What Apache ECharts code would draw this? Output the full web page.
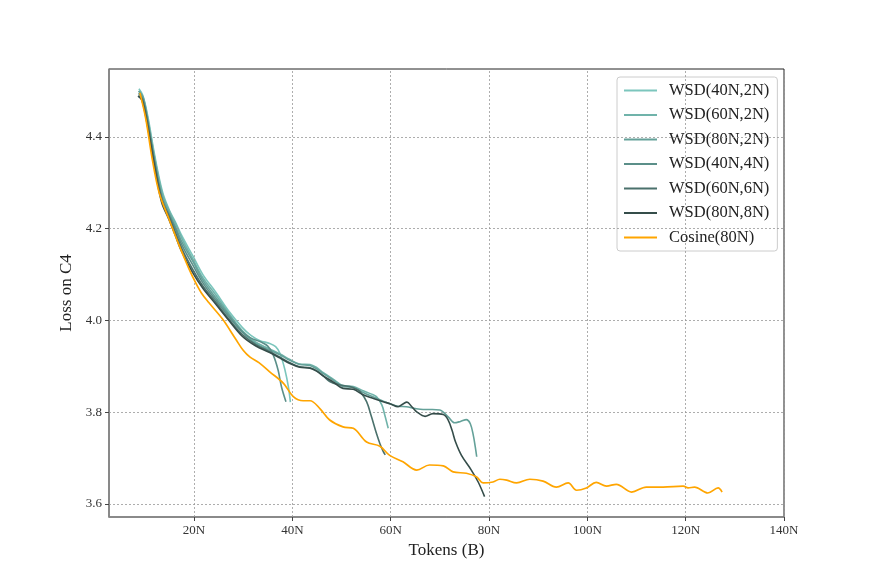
<!DOCTYPE html>
<html>
<head>
<meta charset="utf-8">
<script src="https://cdn.jsdelivr.net/npm/echarts@6/dist/echarts.min.js"></script>
<style>
  html, body { margin: 0; padding: 0; background: #fff; }
  #main { width: 872px; height: 581px; }
</style>
</head>
<body>
<div id="main"></div>
<script>
// tokens (in N units) vs loss on C4
var wsd40_2 = [[8.8,4.505],[9.6,4.49],[10.6,4.445],[12.0,4.36],[13.6,4.28],[15.0,4.24],[16.2,4.215],[17.6,4.183],[19.8,4.14],[21.8,4.10],[24.4,4.062],[27.1,4.02],[29.8,3.985],[31.5,3.968],[33.4,3.956],[35.4,3.950],[36.6,3.943],[37.5,3.928],[38.5,3.892],[39.2,3.855],[39.6,3.822]];
var wsd60_2 = [[8.9,4.50],[9.7,4.485],[10.6,4.44],[12.0,4.355],[13.6,4.275],[15.1,4.235],[16.3,4.21],[17.7,4.175],[19.8,4.133],[21.8,4.093],[24.4,4.056],[27.1,4.015],[29.8,3.978],[32.5,3.953],[35.4,3.938],[37.5,3.927],[39.5,3.915],[41.5,3.905],[43.6,3.904],[45,3.897],[46.3,3.886],[48.3,3.872],[50.3,3.858],[52.4,3.856],[54.4,3.847],[56,3.840],[57.1,3.834],[58.2,3.816],[58.8,3.794],[59.5,3.765]];
var wsd80_2 = [[8.7,4.50],[9.6,4.487],[10.5,4.44],[11.9,4.353],[13.5,4.27],[15.1,4.23],[16.3,4.203],[17.6,4.17],[19.8,4.128],[21.8,4.088],[24.4,4.05],[27.1,4.012],[29.8,3.976],[32.5,3.95],[35.4,3.935],[37.5,3.925],[39.5,3.913],[41.5,3.904],[43.6,3.902],[45,3.894],[46.3,3.884],[48.3,3.87],[50.3,3.856],[52.4,3.854],[54.4,3.843],[56.5,3.833],[58.5,3.824],[60,3.818],[61.5,3.813],[63.2,3.812],[65,3.808],[66.6,3.806],[68.5,3.806],[70,3.805],[71.7,3.79],[73,3.777],[74.2,3.780],[75.4,3.784],[76.2,3.775],[76.8,3.75],[77.2,3.725],[77.5,3.703]];
var wsd40_4 = [[8.7,4.495],[9.5,4.485],[10.5,4.438],[11.9,4.35],[13.5,4.265],[15.0,4.228],[16.3,4.198],[17.6,4.163],[19.8,4.12],[21.8,4.082],[24.4,4.045],[27.1,4.008],[29.8,3.975],[31.5,3.962],[33.4,3.954],[35.0,3.944],[36.1,3.925],[37.1,3.892],[37.8,3.855],[38.7,3.823]];
var wsd60_6 = [[8.7,4.49],[9.5,4.482],[10.5,4.435],[11.9,4.348],[13.5,4.262],[15.0,4.225],[16.3,4.19],[17.6,4.155],[19.8,4.11],[21.8,4.075],[24.4,4.04],[27.1,4.003],[29.8,3.97],[32.5,3.948],[35.4,3.932],[37.5,3.92],[39.5,3.908],[41.5,3.899],[43.6,3.897],[45,3.89],[46.3,3.879],[47.6,3.867],[49.5,3.86],[51.7,3.856],[52.7,3.852],[53.7,3.846],[55.1,3.823],[56.1,3.79],[57.1,3.754],[57.8,3.732],[58.5,3.714],[58.9,3.707]];
var wsd80_8 = [[8.6,4.489],[9.4,4.48],[10.4,4.432],[11.8,4.345],[13.4,4.258],[14.9,4.22],[16.2,4.185],[17.5,4.15],[19.7,4.105],[21.8,4.07],[24.4,4.036],[27.1,4.0],[29.8,3.966],[32.5,3.945],[35.4,3.93],[37.5,3.918],[39.5,3.906],[41.5,3.898],[43.6,3.896],[45,3.889],[46.3,3.879],[48.3,3.866],[50.3,3.852],[52.4,3.85],[54.4,3.838],[56.5,3.83],[58.5,3.823],[60,3.818],[61.5,3.812],[62.5,3.818],[63.3,3.822],[64.3,3.812],[65.3,3.801],[67,3.791],[68.6,3.797],[70.7,3.795],[71.7,3.783],[72.5,3.76],[73.2,3.735],[74.4,3.706],[76.4,3.674],[77.8,3.648],[79.1,3.616]];
var cosine80 = [[9.0,4.496],[10.2,4.439],[11.5,4.352],[12.9,4.279],[14.9,4.221],[17.0,4.163],[19.0,4.112],[20.3,4.083],[21.5,4.06],[23.0,4.039],[25.8,4.003],[28.5,3.959],[30.0,3.935],[31.4,3.920],[33.2,3.908],[35.4,3.888],[38.2,3.863],[40.2,3.834],[42.2,3.825],[43.6,3.825],[45.6,3.808],[47.6,3.783],[50.3,3.768],[52.4,3.765],[55.1,3.735],[57.8,3.726],[59.8,3.706],[62.5,3.692],[65.3,3.674],[67.9,3.685],[70.7,3.683],[72.7,3.670],[75.4,3.667],[77.5,3.659],[78.8,3.646],[80.8,3.648],[82.2,3.654],[83.6,3.652],[85.6,3.646],[88.3,3.654],[91.0,3.650],[93.7,3.637],[96.1,3.646],[97.8,3.630],[99.8,3.635],[101.8,3.647],[103.9,3.639],[105.9,3.643],[109.0,3.626],[112.0,3.637],[115.4,3.637],[119.5,3.639],[120.5,3.635],[121.8,3.637],[124.5,3.624],[126.6,3.635],[127.4,3.626]];

var seriesNames = ['WSD(40N,2N)','WSD(60N,2N)','WSD(80N,2N)','WSD(40N,4N)','WSD(60N,6N)','WSD(80N,8N)','Cosine(80N)'];
var seriesData = [wsd40_2, wsd60_2, wsd80_2, wsd40_4, wsd60_6, wsd80_8, cosine80];
var seriesColors = ['#7cc6bd','#70b3aa','#64a199','#5b8f89','#4b716c','#354d4a','#ffa500'];

var xTicks = [20, 40, 60, 80, 100, 120, 140];
var yTicks = [3.6, 3.8, 4.0, 4.2, 4.4];

var font = 'Liberation Serif';
var myChart = echarts.init(document.getElementById('main'));

var series = seriesData.map(function (d, i) {
    return {
        name: seriesNames[i],
        type: 'line',
        data: d,
        smooth: 0.35,
        showSymbol: false,
        symbol: 'none',
        z: 3 + i,
        lineStyle: { color: seriesColors[i], width: i == 6 ? 1.7 : 1.6 },
        itemStyle: { color: seriesColors[i] }
    };
});

// dotted grid drawn as mark lines
var gridLines = [];
xTicks.forEach(function (v) { gridLines.push({ xAxis: v }); });
yTicks.forEach(function (v) { gridLines.push({ yAxis: v }); });
series.push({
    name: 'grid',
    type: 'line',
    data: [],
    z: 1,
    markLine: {
        silent: true,
        symbol: ['none', 'none'],
        label: { show: false },
        animation: false,
        lineStyle: { color: '#999', type: [2, 2], width: 0.8 },
        data: gridLines
    }
});

myChart.setOption({
    backgroundColor: '#fff',
    animation: false,
    textStyle: { fontFamily: font },
    grid: {
        left: 109, right: 88, top: 69, bottom: 64,
        show: true, borderColor: '#222', borderWidth: 1
    },
    legend: {
        data: seriesNames,
        orient: 'vertical',
        left: 617,
        top: 77,
        icon: 'rect',
        itemWidth: 33,
        itemHeight: 2,
        itemGap: 7.5,
        padding: [5, 8, 5, 7],
        borderColor: '#ccc',
        borderWidth: 1,
        borderRadius: 3,
        backgroundColor: '#fff',
        textStyle: { fontFamily: font, fontSize: 16.5, color: '#222', padding: [0, 0, 0, 7] }
    },
    xAxis: {
        type: 'value',
        min: 2.71,
        max: 140,
        name: 'Tokens (B)',
        nameLocation: 'middle',
        nameGap: 22,
        nameTextStyle: { fontFamily: font, fontSize: 17, color: '#222' },
        axisLine: { show: true, lineStyle: { color: '#888', width: 1.6 } },
        axisTick: { show: true, length: 4, customValues: xTicks, lineStyle: { color: '#444' } },
        axisLabel: {
            customValues: xTicks,
            margin: 7,
            fontFamily: font, fontSize: 13, color: '#333',
            formatter: function (v) { return v + 'N'; }
        },
        splitLine: { show: false }
    },
    yAxis: {
        type: 'value',
        min: 3.5717,
        max: 4.548,
        name: 'Loss on C4',
        nameLocation: 'middle',
        nameGap: 27,
        nameRotate: 90,
        nameTextStyle: { fontFamily: font, fontSize: 17, color: '#222' },
        axisLine: { show: true, lineStyle: { color: '#888', width: 1.6 } },
        axisTick: { show: true, length: 4, customValues: yTicks, lineStyle: { color: '#444' } },
        axisLabel: {
            customValues: yTicks,
            margin: 7,
            fontFamily: font, fontSize: 13, color: '#333',
            formatter: function (v) { return v.toFixed(1); }
        },
        splitLine: { show: false }
    },
    series: series
});
</script>
</body>
</html>
